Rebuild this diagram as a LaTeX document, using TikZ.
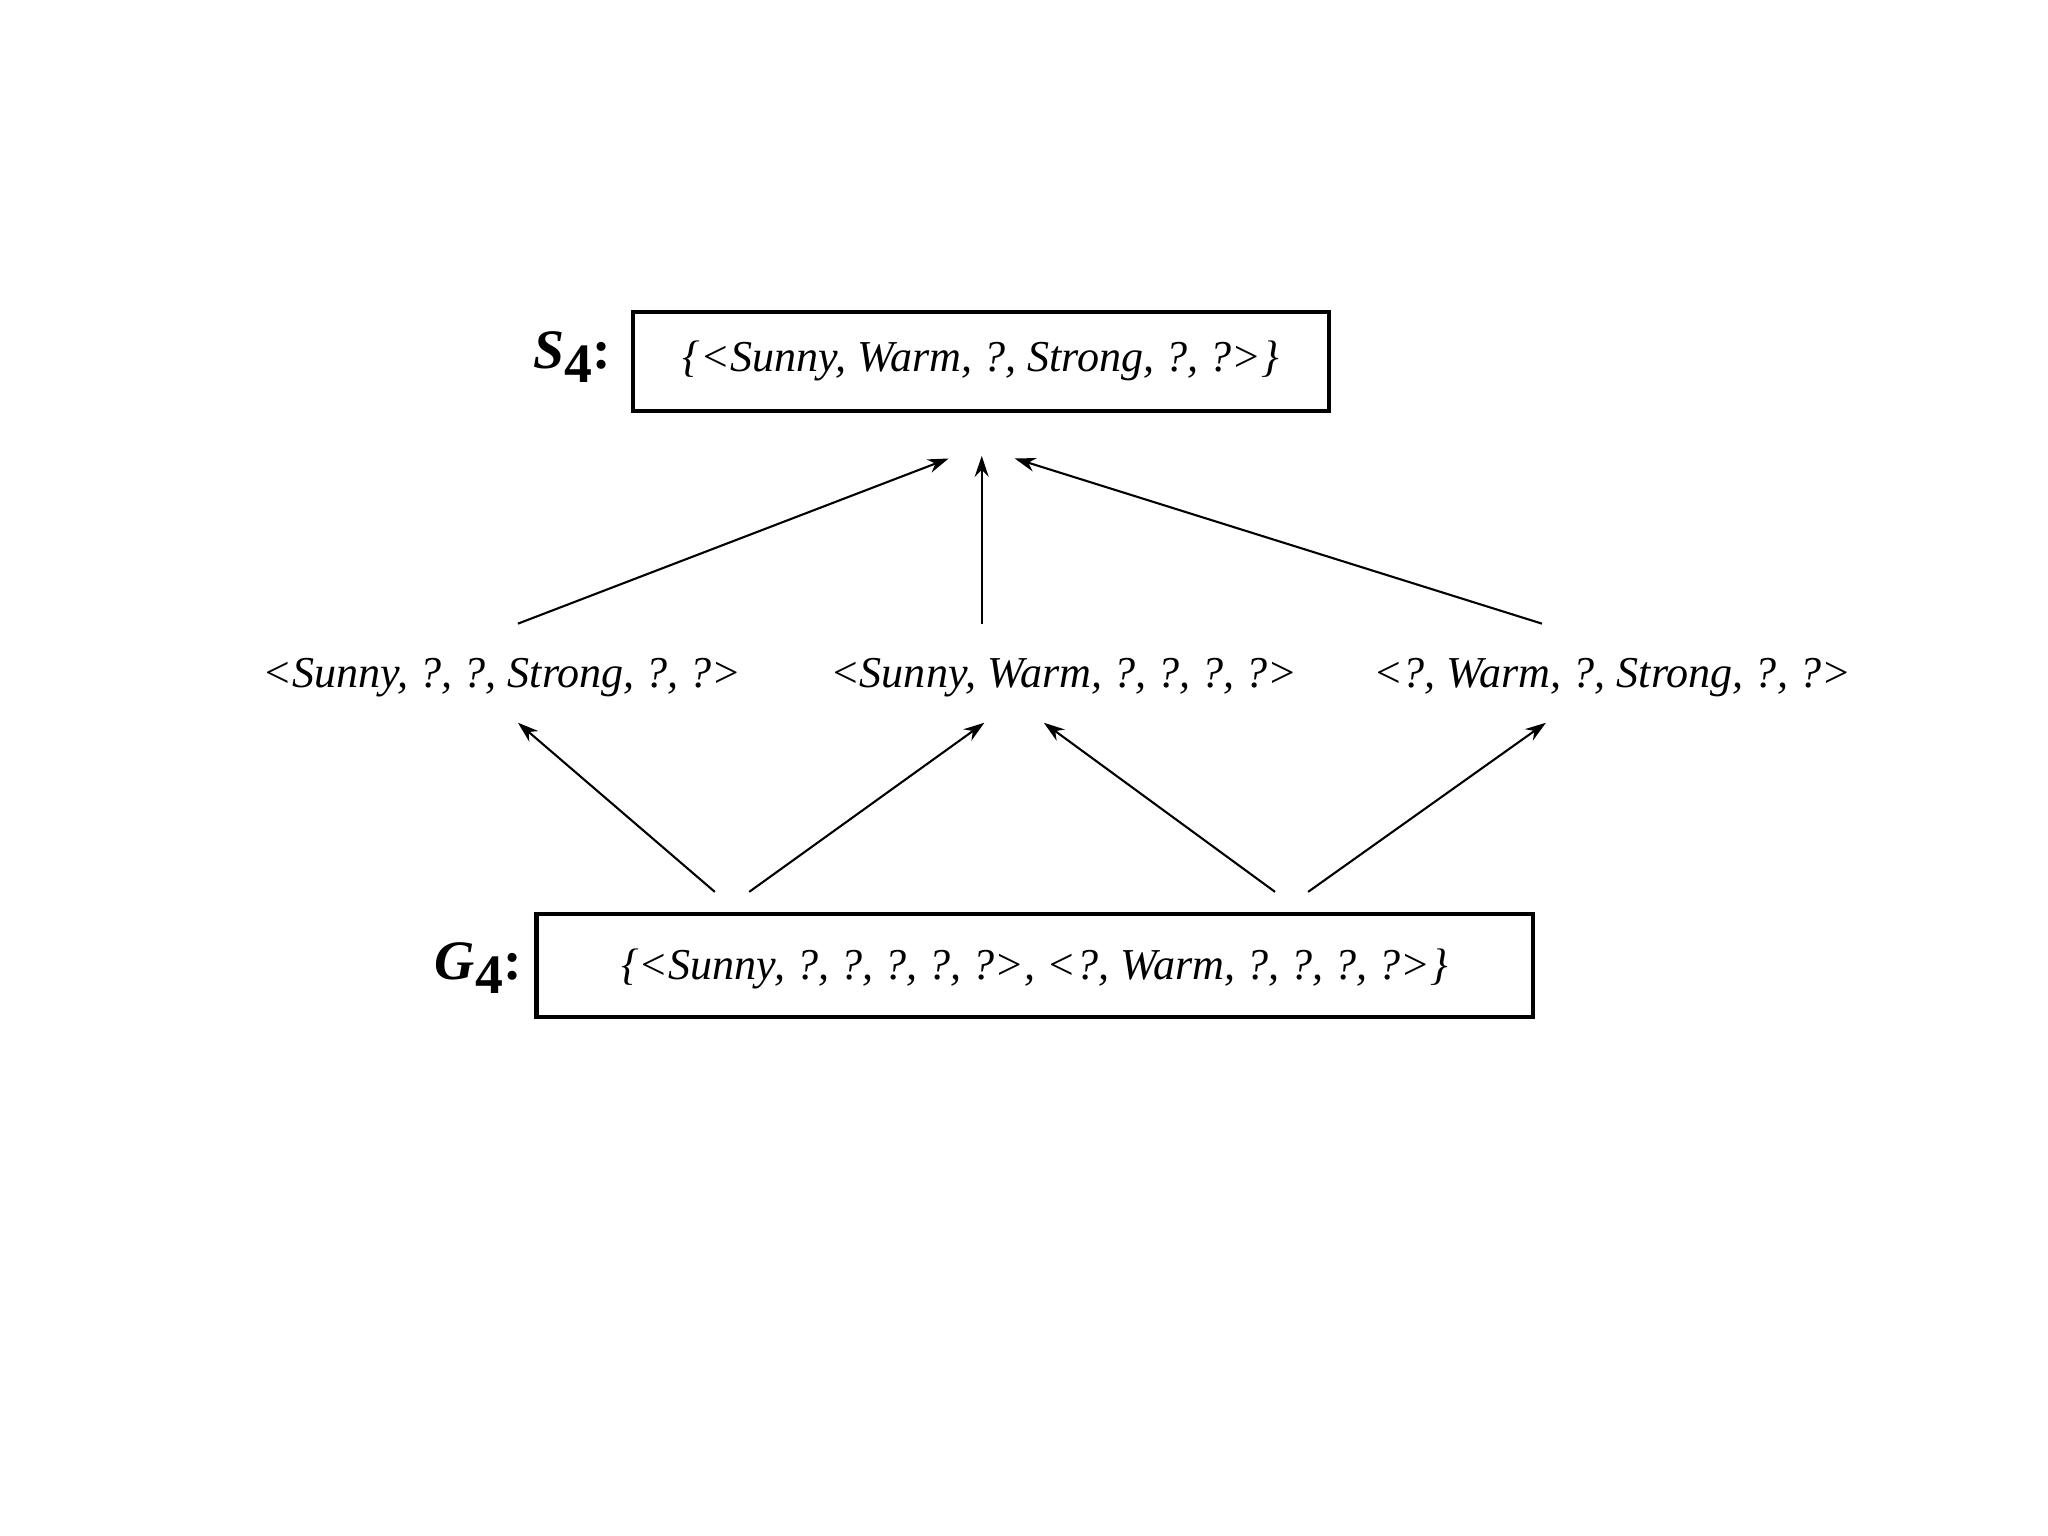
\documentclass[tikz,border=0pt]{standalone}
\usepackage{fontspec}
\setmainfont{Liberation Serif}
\usetikzlibrary{arrows.meta}
\begin{document}
\begin{tikzpicture}[x=0.02cm,y=-0.02cm,
  lbl/.style={font=\fontsize{19}{22}\selectfont\itshape,inner sep=0},
  boxed/.style={draw,line width=1.8pt,inner sep=0},
  arr/.style={-{Stealth[length=9pt,width=6pt]},line width=0.9pt},
  tag/.style={font=\fontsize{24}{26}\selectfont\bfseries\itshape,inner sep=0}]
\useasboundingbox (0,0) rectangle (1550,1162);
\node[boxed,minimum width=527*0.02cm,minimum height=75*0.02cm] (S) at (742.5,273.5) {};
\node[lbl] at (S.center) {\{<Sunny, Warm, ?, Strong, ?, ?>\}};
\node[tag] (St) at (433,270) {S\raisebox{-6pt}{\upshape 4}\upshape:};
\node[boxed,minimum width=754*0.02cm,minimum height=78*0.02cm] (G) at (783,731) {};
\node[lbl] at (783,733) {\{<Sunny, ?, ?, ?, ?, ?>, <?, Warm, ?, ?, ?, ?>\}};
\node[tag] (Gt) at (362,733) {G\raisebox{-6pt}{\upshape 4}\upshape:};
\node[lbl] (m1) at (380,513) {<Sunny, ?, ?, Strong, ?, ?>};
\node[lbl] (m2) at (805,513) {<Sunny, Warm, ?, ?, ?, ?>};
\node[lbl] (m3) at (1220,513) {<?, Warm, ?, Strong, ?, ?>};
\coordinate (a1) at (392,472); \coordinate (t1) at (718,347);
\coordinate (a2) at (743,472); \coordinate (t2) at (743,345);
\coordinate (a3) at (1167,472); \coordinate (t3) at (768,347);
\draw[arr] (a1) -- (t1); \draw[arr] (a2) -- (t2); \draw[arr] (a3) -- (t3);
\coordinate (b1) at (541,675); \coordinate (c1) at (392,547);
\coordinate (b2) at (567,675); \coordinate (c2) at (745,547);
\coordinate (b3) at (965,675); \coordinate (c3) at (790,547);
\coordinate (b4) at (990,675); \coordinate (c4) at (1170,547);
\draw[arr] (b1) -- (c1); \draw[arr] (b2) -- (c2); \draw[arr] (b3) -- (c3); \draw[arr] (b4) -- (c4);
\end{tikzpicture}
\end{document}
